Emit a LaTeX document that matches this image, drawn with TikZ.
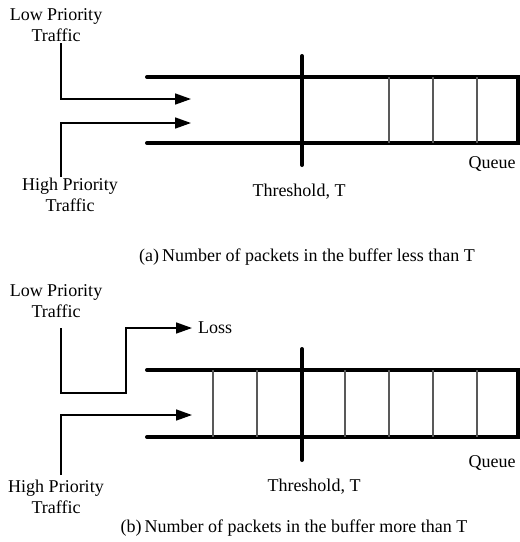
\documentclass[tikz,border=0pt]{standalone}
\usepackage{fontspec}
\setmainfont{Liberation Serif}
\usetikzlibrary{arrows.meta}
\begin{document}
\begin{tikzpicture}[x=1pt,y=-1pt,
  thickline/.style={line width=4pt, line cap=round, line join=miter},
  flow/.style={line width=1.6pt, -{Triangle[length=16pt,width=11pt]}},
  cell/.style={line width=1.2pt, black!65},
  lbl/.style={font=\fontsize{18}{21}\selectfont, inner sep=0pt, align=center},
]
\useasboundingbox (0,0) rectangle (520,542);

% ---------------- panel (a) ----------------
\node[lbl] (lowa) at (56,25) {Low Priority\\Traffic};
\node[lbl] (higha) at (70,195) {High Priority\\Traffic};
\node[lbl] (thra) at (299,192) {Threshold, T};
\node[lbl] (queuea) at (492,164) {Queue};
\node[lbl] (capa) at (307,257) {(a)\,Number of packets in the buffer less than T};

\coordinate (qa1) at (147,77);
\coordinate (qa2) at (518,77);
\coordinate (qa3) at (518,143);
\coordinate (qa4) at (147,143);
\draw[thickline] (qa1) -- (qa2) -- (qa3) -- (qa4);
\foreach \x in {389,433,477} \draw[cell] (\x,77) -- (\x,143);
\coordinate (ta1) at (302,56);
\coordinate (ta2) at (302,165);
\draw[thickline] (ta1) -- (ta2);

\coordinate (la0) at (61,43);
\coordinate (la1) at (61,99);
\coordinate (la2) at (191,99);
\draw[flow] (la0) -- (la1) -- (la2);
\coordinate (ha0) at (61,177);
\coordinate (ha1) at (61,123);
\coordinate (ha2) at (191,123);
\draw[flow] (ha0) -- (ha1) -- (ha2);

% ---------------- panel (b) ----------------
\node[lbl] (lowb) at (56,301) {Low Priority\\Traffic};
\node[lbl] (highb) at (56,497) {High Priority\\Traffic};
\node[lbl] (thrb) at (314,487) {Threshold, T};
\node[lbl] (queueb) at (492,463) {Queue};
\node[lbl] (capb) at (294,528) {(b)\,Number of packets in the buffer more than T};
\node[lbl, anchor=west] (loss) at (198,328) {Loss};

\coordinate (qb1) at (147,370);
\coordinate (qb2) at (518,370);
\coordinate (qb3) at (518,437);
\coordinate (qb4) at (147,437);
\draw[thickline] (qb1) -- (qb2) -- (qb3) -- (qb4);
\foreach \x in {213,257,345,389,433,477} \draw[cell] (\x,370) -- (\x,437);
\coordinate (tb1) at (302,349);
\coordinate (tb2) at (302,460);
\draw[thickline] (tb1) -- (tb2);

\coordinate (lb0) at (61,328);
\coordinate (lb1) at (61,393);
\coordinate (lb2) at (126,393);
\coordinate (lb3) at (126,328);
\draw[flow, shorten >=6pt] (lb0) -- (lb1) -- (lb2) -- (lb3) -- (loss.west);
\coordinate (hb0) at (61,475);
\coordinate (hb1) at (61,415);
\coordinate (hb2) at (192,415);
\draw[flow] (hb0) -- (hb1) -- (hb2);
\end{tikzpicture}
\end{document}
